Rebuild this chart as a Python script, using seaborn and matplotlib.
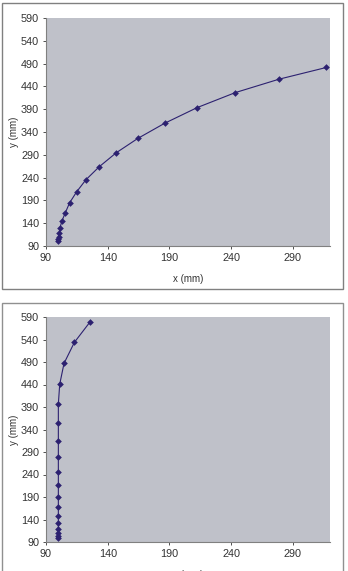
import numpy as np
import pandas as pd
import matplotlib
matplotlib.use('Agg')
import matplotlib.pyplot as plt
import seaborn as sns
from matplotlib.patches import Rectangle

# top panel: curved trajectory
x_top = [100.0, 100.0, 100.2, 100.8, 101.3, 102.9, 105.6, 109.1, 114.8, 122.3,
         133.1, 146.9, 164.4, 186.0, 212.4, 243.4, 278.7, 317.0]
y_top = [101, 104.7, 109.8, 118.6, 129.6, 145, 162.6, 184.6, 208.8, 235.2,
         263.8, 294.5, 326, 359, 393.5, 426.5, 455.8, 481.5]

# bottom panel: near-vertical trajectory
x_bot = [100.0, 100.0, 100.0, 100.0, 100.0, 100.0, 100.0, 100.0, 100.0, 100.0,
         100.0, 100.0, 100.0, 100.0, 101.1, 104.6, 113.0, 125.4]
y_bot = [98.9, 102.6, 109.3, 118.1, 131.5, 147.8, 167, 190, 216.7, 245.6,
         279.6, 315.2, 354.4, 396.7, 440.4, 487, 533.7, 578.1]

x_ticks = [90, 140, 190, 240, 290]
y_ticks = [90, 140, 190, 240, 290, 340, 390, 440, 490, 540, 590]

sns.set_style('white')
plt.rcParams['font.family'] = ['Liberation Sans', 'DejaVu Sans']

W, H = 348, 571
fig = plt.figure(figsize=(W / 100, H / 100), dpi=100)

# panel frames
fig.patches.append(Rectangle((2 / W, 1 - 289 / H), 341 / W, 286 / H, transform=fig.transFigure,
                             fill=False, edgecolor='#808080', linewidth=1.0))
fig.patches.append(Rectangle((2 / W, -0.01), 341 / W, (H - 303) / H + 0.01, transform=fig.transFigure,
                             fill=False, edgecolor='#909090', linewidth=1.0))


def draw(ax, xs, ys):
    df = pd.DataFrame({'x': xs, 'y': ys})
    sns.lineplot(data=df, x='x', y='y', sort=False, estimator=None, ax=ax,
                 color='#2C2170', linewidth=0.8, marker='D', markersize=3.4,
                 markeredgewidth=0, markerfacecolor='#2C2170')
    ax.set_facecolor('#BFC1C9')
    ax.set_xlim(90, 320)
    ax.set_ylim(90, 590)
    ax.set_xticks(x_ticks)
    ax.set_yticks(y_ticks)
    ax.tick_params(labelsize=7.8, colors='#333333', length=2, width=0.6,
                   direction='out', pad=3, left=True, bottom=True)
    for s in ['top', 'right']:
        ax.spines[s].set_visible(False)
    for s in ['left', 'bottom']:
        ax.spines[s].set_color('#808080')
        ax.spines[s].set_linewidth(0.8)
    ax.set_xlabel('x (mm)', fontsize=7, color='#333333', labelpad=8)
    ax.set_ylabel('y (mm)', fontsize=7, color='#333333', labelpad=1.5)


ax1 = fig.add_axes([46 / W, 1 - 246 / H, 284 / W, 228 / H])
draw(ax1, x_top, y_top)

ax2 = fig.add_axes([46 / W, 1 - 542 / H, 284 / W, 225 / H])
draw(ax2, x_bot, y_bot)

fig.savefig('out.png', dpi=100, facecolor='white')
